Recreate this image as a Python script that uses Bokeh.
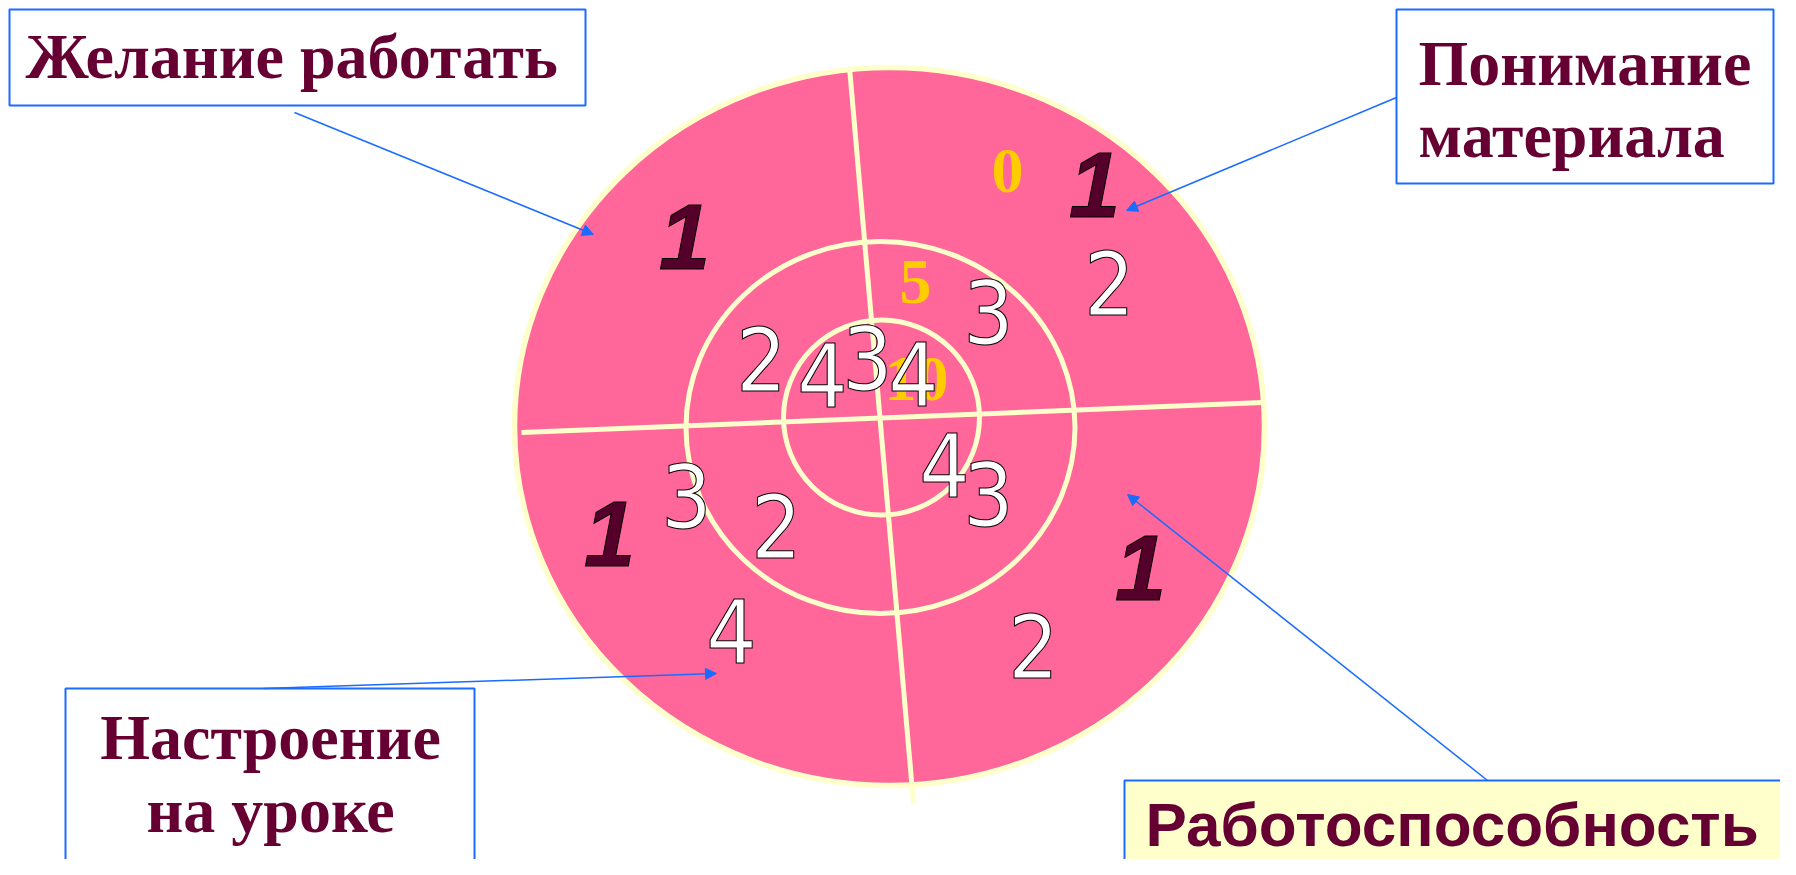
from bokeh.plotting import figure
from bokeh.models import Range1d, Arrow, NormalHead
from bokeh.core.properties import value
from bokeh.embed import file_html
from bokeh.resources import INLINE

# ---- data (picture pixel coordinates) ----
ring_cx = [889, 880, 881]
ring_cy = [426, 427, 417]
ring_w = [750, 389, 196]
ring_h = [718, 372, 195]

cross_x0 = [849, 521]
cross_y0 = [67, 432]
cross_x1 = [913, 1262]
cross_y1 = [803, 402]

scale_labels = ["0", "5", "10"]
scale_x = [1007, 915, 916]
scale_y = [194, 305, 402]

one_labels = ["1", "1", "1", "1"]
one_x = [684, 1094, 609, 1140]
one_y = [270, 218, 567, 601]

mark_labels = ["2", "3", "2", "4", "3", "4", "4", "3", "3", "2", "4", "2"]
mark_x = [1109, 988, 761, 822, 867, 913, 944, 988, 686, 776, 731, 1033]
mark_y = [314, 343, 390, 406, 389, 405, 496, 525, 527, 557, 662, 677]

box_left = [9, 1396, 65, 1124]
box_right = [585, 1773, 474, 1810]
box_top = [9, 9, 688, 780]
box_bottom = [105, 183, 862, 890]
box_fill = ["white", "white", "white", "#FFFFCC"]

serif_lines = ["Желание работать", "Понимание", "материала", "Настроение", "на уроке"]
serif_x = [25, 1418, 1418, 270, 270]
serif_y = [79, 86, 158, 760, 833]
serif_align = ["left", "left", "left", "center", "center"]

sans_label = ["Работоспособность"]
sans_x = [1145]
sans_y = [846]

arrow_x0 = [294, 1396, 263, 1487]
arrow_y0 = [112, 97, 688, 780]
arrow_x1 = [593, 1126, 716, 1127]
arrow_y1 = [234, 210, 673, 494]

PINK = "#FF6699"
CREAM = "#FFFFCC"
MAROON = "#660033"
GOLD = "#FFCC00"
BLUE = "#1A6BFF"
K = 0.36  # baseline correction (fraction of font size)

p = figure(width=1780, height=859, x_range=Range1d(0, 1780), y_range=Range1d(859, 0),
           output_backend="svg", toolbar_location=None, min_border=0)
p.axis.visible = False
p.grid.visible = False
p.outline_line_color = None
p.background_fill_color = "white"
p.border_fill_color = "white"

# target
p.ellipse(x=ring_cx[:1], y=ring_cy[:1], width=ring_w[:1], height=ring_h[:1],
          fill_color=PINK, line_color=CREAM, line_width=5.5)
p.ellipse(x=ring_cx[1:], y=ring_cy[1:], width=ring_w[1:], height=ring_h[1:],
          fill_color=None, line_color=CREAM, line_width=5)
p.segment(x0=cross_x0, y0=cross_y0, x1=cross_x1, y1=cross_y1, line_color=CREAM, line_width=5)

# scale labels
p.text(x=scale_x, y=scale_y, text=scale_labels, text_color=GOLD,
       text_font=value("Liberation Serif"), text_font_style="bold", text_font_size="64px",
       text_align="center", text_baseline="alphabetic", y_offset=-K * 64)

# dark ones
p.text(x=one_x, y=one_y, text=one_labels, text_color="#55002A",
       text_font=value("Liberation Sans"), text_font_style="bold italic", text_font_size="92px",
       text_align="center", text_baseline="alphabetic", y_offset=-K * 92,
       text_outline_color="black")

# white outlined marks
p.text(x=mark_x, y=mark_y, text=mark_labels, text_color="white",
       text_font=value("DejaVu Sans Condensed"), text_font_size="88px",
       text_align="center", text_baseline="alphabetic", y_offset=-K * 88,
       text_outline_color="black")

# boxes
p.quad(left=box_left, right=box_right, top=box_top, bottom=box_bottom,
       fill_color=box_fill, line_color=BLUE, line_width=2)

for t, x, y, a in zip(serif_lines, serif_x, serif_y, serif_align):
    p.text(x=[x], y=[y], text=[t], text_color=MAROON,
           text_font=value("Liberation Serif"), text_font_style="bold", text_font_size="64px",
           text_align=a, text_baseline="alphabetic", y_offset=-K * 64)

p.text(x=sans_x, y=sans_y, text=sans_label, text_color=MAROON,
       text_font=value("Liberation Sans"), text_font_style="bold", text_font_size="62px",
       text_align="left", text_baseline="alphabetic", y_offset=-K * 62)

for x0, y0, x1, y1 in zip(arrow_x0, arrow_y0, arrow_x1, arrow_y1):
    p.add_layout(Arrow(end=NormalHead(size=11, fill_color=BLUE, line_color=BLUE),
                       x_start=x0, y_start=y0, x_end=x1, y_end=y1,
                       line_color=BLUE, line_width=1.5))

open("out.html", "w").write(file_html(p, INLINE))
